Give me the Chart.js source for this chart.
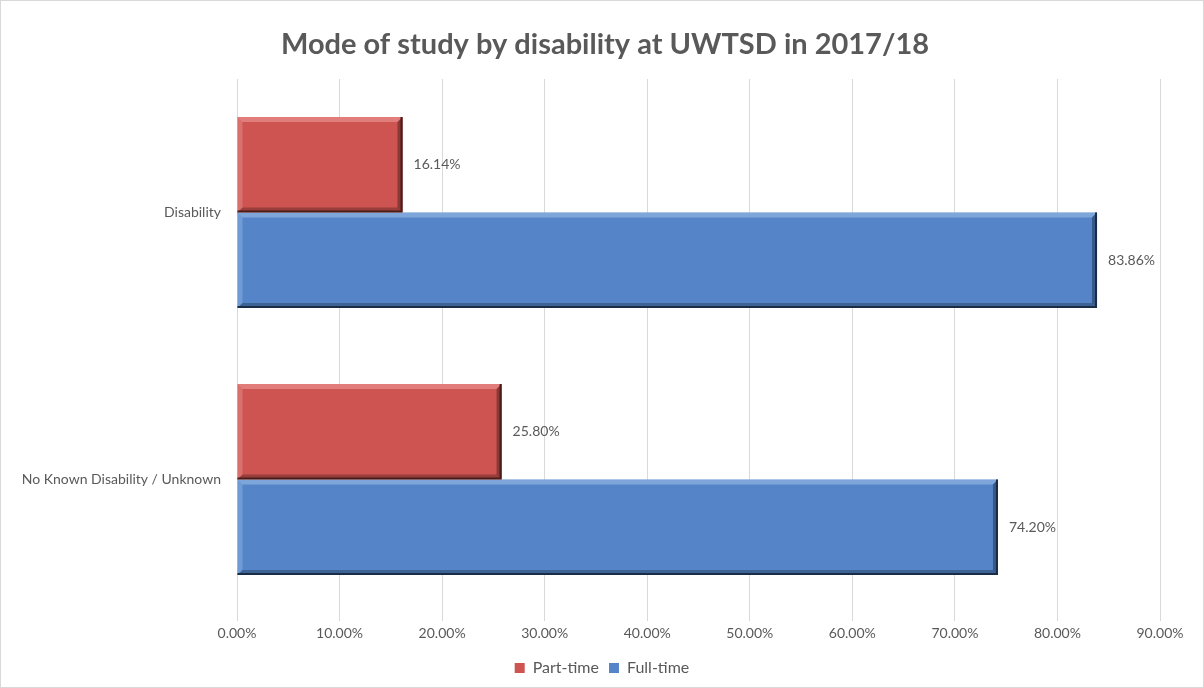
<!DOCTYPE html>
<html>
<head>
<meta charset="utf-8">
<script src="https://cdn.jsdelivr.net/npm/chart.js@4/dist/chart.umd.min.js"></script>
<style>
html,body{margin:0;padding:0;background:#fff;}
#wrap{width:1204px;height:688px;position:relative;}
</style>
</head>
<body>
<div id="wrap"><canvas id="c" width="1204" height="688"></canvas></div>
<script>
const categories = ["Disability", "No Known Disability / Unknown"];
const partTime = [16.14, 25.80];
const fullTime = [83.86, 74.20];
const seriesNames = ["Part-time", "Full-time"];
const titleText = "Mode of study by disability at UWTSD in 2017/18";

const FONT = "Lato, 'Open Sans', sans-serif";
const TEXT = "#595959";

const bgPlugin = {
  id: 'bg',
  beforeDraw(chart) {
    const ctx = chart.ctx;
    ctx.save();
    ctx.fillStyle = '#fff';
    ctx.fillRect(0, 0, chart.width, chart.height);
    ctx.strokeStyle = '#d9d9d9';
    ctx.lineWidth = 1;
    ctx.strokeRect(0.5, 0.5, chart.width - 1, chart.height - 1);
    ctx.restore();
  }
};

const titlePlugin = {
  id: 'ctitle',
  afterDraw(chart) {
    const ctx = chart.ctx;
    ctx.save();
    ctx.font = "bold 29px " + FONT;
    ctx.fillStyle = TEXT;
    ctx.textAlign = 'center';
    ctx.textBaseline = 'middle';
    ctx.fillText(titleText, chart.width / 2 + 3, 45);
    ctx.restore();
  }
};

const bevelPlugin = {
  id: 'bevel',
  afterDatasetsDraw(chart) {
    const ctx = chart.ctx;
    const shades = [
      {light: 'rgba(255,190,185,0.9)', dark: '#4a1d1b'},
      {light: 'rgba(190,215,245,0.9)', dark: '#1a2d47'}
    ];
    chart.data.datasets.forEach((ds, di) => {
      const meta = chart.getDatasetMeta(di);
      meta.data.forEach((bar, i) => {
        const left = Math.min(bar.base, bar.x);
        const right = Math.max(bar.base, bar.x);
        const top = bar.y - bar.height / 2;
        const bottom = bar.y + bar.height / 2;
        const s = shades[di];
        ctx.save();
        ctx.fillStyle = s.light;
        ctx.beginPath();
        ctx.moveTo(left, top); ctx.lineTo(right, top);
        ctx.lineTo(right - 5, top + 5); ctx.lineTo(left + 5, top + 5);
        ctx.closePath(); ctx.globalAlpha = 0.45; ctx.fill();
        ctx.beginPath();
        ctx.moveTo(left, top); ctx.lineTo(left + 5, top + 5);
        ctx.lineTo(left + 5, bottom - 5); ctx.lineTo(left, bottom);
        ctx.closePath(); ctx.globalAlpha = 0.3; ctx.fill();
        ctx.fillStyle = s.dark;
        ctx.beginPath();
        ctx.moveTo(right, top); ctx.lineTo(right, bottom);
        ctx.lineTo(right - 5, bottom - 5); ctx.lineTo(right - 5, top + 5);
        ctx.closePath(); ctx.globalAlpha = 0.5; ctx.fill();
        ctx.beginPath();
        ctx.moveTo(left, bottom); ctx.lineTo(right, bottom);
        ctx.lineTo(right - 5, bottom - 5); ctx.lineTo(left + 5, bottom - 5);
        ctx.closePath(); ctx.globalAlpha = 0.4; ctx.fill();
        ctx.globalAlpha = 1;
        ctx.strokeStyle = s.dark;
        ctx.lineWidth = 2;
        ctx.beginPath();
        ctx.moveTo(right - 1, top); ctx.lineTo(right - 1, bottom - 1); ctx.lineTo(left, bottom - 1);
        ctx.stroke();
        ctx.restore();
      });
    });
  }
};

const labelPlugin = {
  id: 'vlabels',
  afterDatasetsDraw(chart) {
    const ctx = chart.ctx;
    ctx.save();
    ctx.font = "14px " + FONT;
    ctx.fillStyle = TEXT;
    ctx.textAlign = 'left';
    ctx.textBaseline = 'middle';
    chart.data.datasets.forEach((ds, di) => {
      const meta = chart.getDatasetMeta(di);
      meta.data.forEach((bar, i) => {
        ctx.fillText(ds.data[i].toFixed(2) + '%', bar.x + 11, bar.y);
      });
    });
    ctx.restore();
  }
};

new Chart(document.getElementById('c'), {
  type: 'bar',
  data: {
    labels: categories,
    datasets: [
      {label: seriesNames[0], data: partTime, backgroundColor: '#cd5451', borderWidth: 0},
      {label: seriesNames[1], data: fullTime, backgroundColor: '#5585c8', borderWidth: 0}
    ]
  },
  options: {
    indexAxis: 'y',
    responsive: false,
    animation: false,
    devicePixelRatio: 1,
    layout: {padding: {left: 0, right: 0, top: 79, bottom: 2}},
    datasets: {bar: {categoryPercentage: 0.715, barPercentage: 1.0}},
    scales: {
      x: {
        min: 0, max: 90,
        ticks: {stepSize: 10, color: TEXT, font: {family: FONT, size: 14}, padding: 4,
                callback: v => Number(v).toFixed(2) + '%'},
        grid: {color: '#d9d9d9', tickLength: 8, drawTicks: true},
        border: {display: false},
        afterFit: s => { s.height = 37; s.paddingRight = 44; }
      },
      y: {
        ticks: {color: TEXT, font: {family: FONT, size: 14}, padding: 8},
        grid: {display: false},
        border: {display: false},
        afterFit: s => { s.width = 237; }
      }
    },
    plugins: {
      title: {display: false},
      legend: {position: 'bottom',
               labels: {color: TEXT, font: {family: FONT, size: 16}, boxWidth: 10, boxHeight: 10, padding: 10}},
      tooltip: {enabled: false}
    }
  },
  plugins: [bgPlugin, titlePlugin, bevelPlugin, labelPlugin]
});
</script>
</body>
</html>
